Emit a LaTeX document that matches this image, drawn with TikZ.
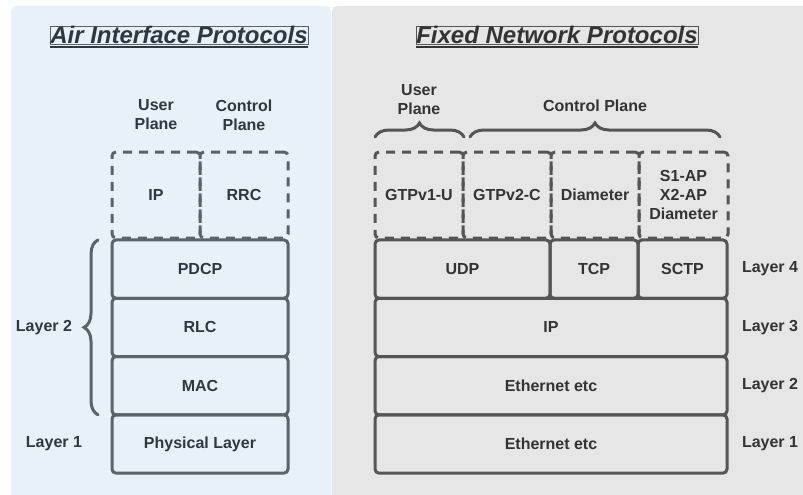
\documentclass[tikz,border=0pt]{standalone}
\usepackage{fontspec}
\setmainfont{Liberation Sans}
\usetikzlibrary{positioning, decorations.pathreplacing}
\definecolor{PanelBlue}{HTML}{E8F1F9}
\definecolor{PanelGray}{HTML}{E6E6E6}
\definecolor{LineSlate}{HTML}{58636A}
\definecolor{LineGray}{HTML}{555555}
\definecolor{TextSlate}{HTML}{2E3840}
\definecolor{TextGray}{HTML}{333333}

\begin{document}
\begin{tikzpicture}[x=1pt, y=-1pt,
      every node/.style={font=\fontsize{16}{19}\selectfont\bfseries, align=center,
                         inner sep=0pt, outer sep=0pt},
      layer/.style={draw, line width=3pt, rounded corners=4pt, minimum height=58.3pt},
      upper/.style={layer, dash pattern=on 9pt off 7pt, minimum height=86pt, minimum width=88pt},
      title/.style={font=\fontsize{24}{28}\selectfont\bfseries\itshape, anchor=base},
      brace/.style={decorate, decoration={brace, amplitude=14pt}, line width=3pt, line cap=round},
      air/.style={draw=LineSlate, text=TextSlate},
      fixed/.style={draw=LineGray, text=TextGray}]
    \useasboundingbox (0,0) rectangle (803,495);
    \clip (0,0) rectangle (803,495);
    \fill[white] (0,0) rectangle (803,495);
    \fill[PanelBlue, rounded corners=5pt] (11,6) rectangle (331,515);
    \fill[PanelGray, rounded corners=5pt] (332,6) rectangle (825,515);

    % air interface side
    \begin{scope}[every node/.append style={air}]
      \node[title] (airtitle) at (179,44) {Air Interface Protocols};
      \draw[TextSlate, line width=2pt] ([yshift=-3pt]airtitle.base west) -- ([yshift=-3pt]airtitle.base east);
      \node[upper] (ipa) at (156,195) {IP};
      \node[upper, right=0pt of ipa] (rrc) {RRC};
      \node[draw=none] at (156,115) {User\\Plane};
      \node[draw=none] at (244,115) {Control\\Plane};
      \node[layer, minimum width=176pt] (pdcp) at (200,269.1) {PDCP};
      \node[layer, minimum width=176pt, below=0pt of pdcp] (rlc) {RLC};
      \node[layer, minimum width=176pt, below=0pt of rlc] (mac) {MAC};
      \node[layer, minimum width=176pt, below=0pt of mac] (phy) {Physical Layer};
      \node[draw=none, left=40pt of rlc.west] (airl2) {Layer 2};
      \node[draw=none, left=30pt of phy.west] (airl1) {Layer 1};
      \draw[brace, LineSlate] ([xshift=-14pt]mac.south west) -- ([xshift=-14pt]pdcp.north west);
    \end{scope}

    % fixed network side
    \begin{scope}[every node/.append style={fixed}]
      \node[title] (fixtitle) at (557,44) {Fixed Network Protocols};
      \draw[TextGray, line width=2pt] ([yshift=-3pt]fixtitle.base west) -- ([yshift=-3pt]fixtitle.base east);
      \node[upper] (gtpu) at (419,195) {GTPv1-U};
      \node[upper, right=0pt of gtpu] (gtpc) {GTPv2-C};
      \node[upper, right=0pt of gtpc] (diam) {Diameter};
      \node[upper, right=0pt of diam, minimum width=89pt] (sap) {S1-AP\\X2-AP\\Diameter};
      \node[draw=none] (upl) at (419,100) {User\\Plane};
      \node[draw=none] (cpl) at (595,106) {Control Plane};
      \draw[brace, LineGray] (375,137) -- (464,137);
      \draw[brace, LineGray] (470,137) -- (720,137);
      \node[layer, minimum width=175pt] (udp) at (462.5,269.1) {UDP};
      \node[layer, minimum width=88pt, right=0pt of udp] (tcp) {TCP};
      \node[layer, minimum width=89pt, right=0pt of tcp] (sctp) {SCTP};
      \node[layer, minimum width=352pt] (ipf) at (551,327.4) {IP};
      \node[layer, minimum width=352pt, below=0pt of ipf] (eth2) {Ethernet etc};
      \node[layer, minimum width=352pt, below=0pt of eth2] (eth1) {Ethernet etc};
      \node[draw=none, right=15pt of sctp] (fixl4) {Layer 4};
      \node[draw=none, right=15pt of ipf] (fixl3) {Layer 3};
      \node[draw=none, right=15pt of eth2] (fixl2) {Layer 2};
      \node[draw=none, right=15pt of eth1] (fixl1) {Layer 1};
    \end{scope}
  \end{tikzpicture}
\end{document}
